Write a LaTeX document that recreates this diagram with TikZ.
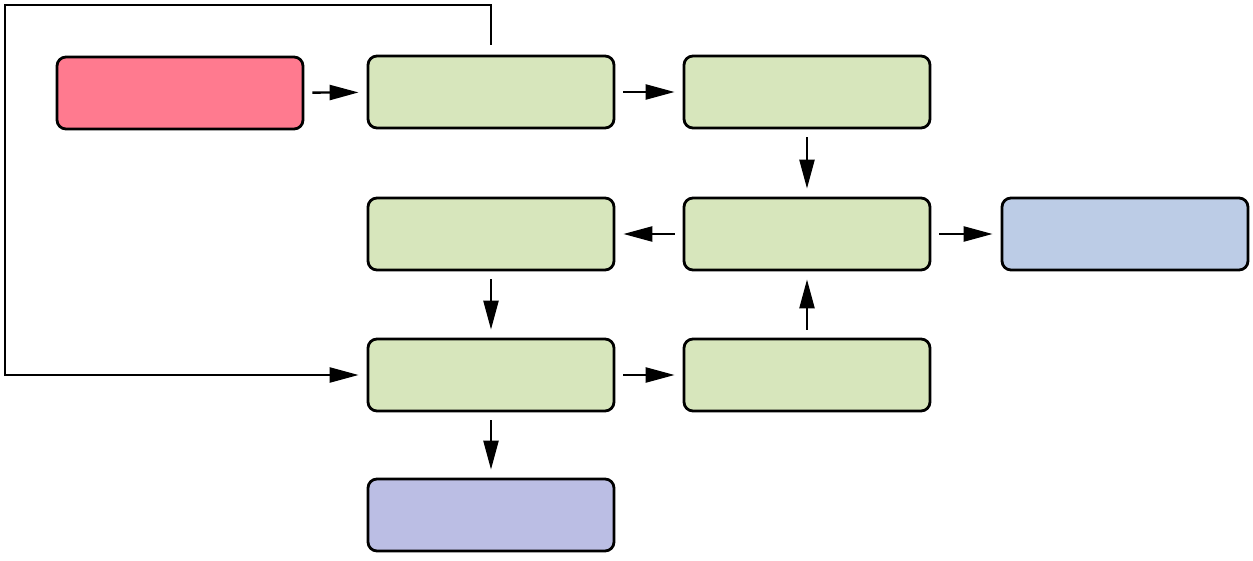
\documentclass[tikz,border=0pt]{standalone}
\usetikzlibrary{arrows.meta}
\definecolor{redf}{RGB}{255,122,143}
\definecolor{greenf}{RGB}{215,230,188}
\definecolor{bluef}{RGB}{188,204,230}
\definecolor{purplef}{RGB}{187,190,228}
\begin{document}
\begin{tikzpicture}[x=1pt,y=-1pt,
  box/.style={draw=black,line width=2.8pt,rounded corners=9pt,minimum width=246pt,minimum height=72pt,inner sep=0pt},
  conn/.style={line width=2.4pt,-{Triangle[length=29pt,width=15pt]},shorten >=8pt,shorten <=8pt}]
\useasboundingbox (0,0) rectangle (1253,560);
\node[box,fill=redf] (r) at (180,93) {};
\node[box,fill=greenf] (a) at (491,92) {};
\node[box,fill=greenf] (b) at (807,92) {};
\node[box,fill=greenf] (c) at (491,234) {};
\node[box,fill=greenf] (d) at (807,234) {};
\node[box,fill=bluef] (bl) at (1125,234) {};
\node[box,fill=greenf] (e) at (491,375) {};
\node[box,fill=greenf] (f) at (807,375) {};
\node[box,fill=purplef] (p) at (491,515) {};
\coordinate (k1) at (491,5);
\coordinate (k2) at (5,5);
\coordinate (k3) at (5,375);
\draw[conn] (r) -- (a);
\draw[conn] (a) -- (b);
\draw[conn] (b) -- (d);
\draw[conn] (d) -- (c);
\draw[conn] (d) -- (bl);
\draw[conn] (c) -- (e);
\draw[conn] (e) -- (f);
\draw[conn] (f) -- (d);
\draw[conn] (e) -- (p);
\draw[line width=2.4pt,-{Triangle[length=29pt,width=15pt]},shorten <=10pt,shorten >=8pt] (a.north) -- (k1) -- (k2) -- (k3) -- (e.west);
\end{tikzpicture}
\end{document}
